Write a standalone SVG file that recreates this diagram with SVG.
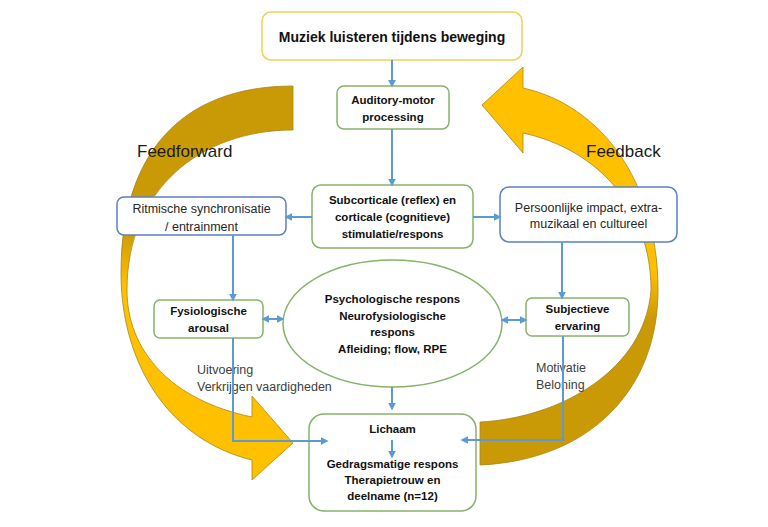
<svg xmlns="http://www.w3.org/2000/svg" width="768" height="527" viewBox="0 0 768 527">
<style>
.bg{fill:#ffffff}
.box{fill:#ffffff;stroke-width:1.5}
.g{stroke:#86B26A}
.b{stroke:#5B80C2}
.y{stroke:#F3CF55}
.t{font-family:"Liberation Sans",Arial,sans-serif;fill:#111111;text-anchor:middle}
.bold{font-weight:bold;font-size:11.5px}
.norm{font-size:12.5px;fill:#262626}
.lbl{font-family:"Liberation Sans",Arial,sans-serif;font-size:12.5px;fill:#404040}
.big{font-family:"Liberation Sans",Arial,sans-serif;font-size:17px;fill:#1a1a1a}
.con{fill:none;stroke:#5B9BD5;stroke-width:2}
.arr{stroke:#A8861A;stroke-width:0.8}
</style>
<defs>
<marker id="ah" viewBox="0 0 10 10" refX="8" refY="5" markerWidth="4" markerHeight="4" orient="auto-start-reverse" markerUnits="strokeWidth">
<path d="M0,0 L10,5 L0,10 Z" fill="#5B9BD5"/>
</marker>
<linearGradient id="gl" gradientUnits="userSpaceOnUse" x1="0" y1="230" x2="0" y2="285">
<stop offset="0" stop-color="#C99A06"/>
<stop offset="1" stop-color="#FFC000"/>
</linearGradient>
<linearGradient id="gr" gradientUnits="userSpaceOnUse" x1="0" y1="270" x2="0" y2="320">
<stop offset="0" stop-color="#FFC000"/>
<stop offset="1" stop-color="#C99A06"/>
</linearGradient>
</defs>
<rect class="bg" x="0" y="0" width="768" height="527"/>

<g id="feedforward-arrow">
<path class="arr" fill="url(#gl)" d="M293,86 C180,86 121,155 121,273 C121,365 170,440 252,460 L252,480 L293,443 L252,396 L252,417 C170,400 127,350 127,290 C127,190 200,130 293,130 Z"/>
</g>
<g id="feedback-arrow">
<path class="arr" fill="url(#gr)" d="M482,105 L523,67 L523,88 C600,105 658,180 658,290 C658,390 590,460 480,465 L480,422 C560,418 645,370 651,290 C651,210 600,150 523,133 L523,153 Z"/>
</g>

<g id="labels">
<text class="big" x="137" y="157">Feedforward</text>
<text class="big" x="586" y="157">Feedback</text>
<text class="lbl" x="197" y="374">Uitvoering</text>
<text class="lbl" x="197" y="391">Verkrijgen vaardigheden</text>
<text class="lbl" x="536" y="372">Motivatie</text>
<text class="lbl" x="536" y="389">Beloning</text>
</g>

<g id="muziek">
<rect class="box y" x="262" y="12" width="260" height="48" rx="9"/>
<text class="t" x="392" y="42" style="font-weight:bold;font-size:14px">Muziek luisteren tijdens beweging</text>
</g>
<g id="auditory">
<rect class="box g" x="337" y="86" width="112" height="43" rx="7"/>
<text class="t bold" x="393" y="104">Auditory-motor</text>
<text class="t bold" x="393" y="121">processing</text>
</g>
<g id="subcorticale">
<rect class="box g" x="312" y="185" width="161" height="63" rx="9"/>
<text class="t bold" x="392.5" y="204">Subcorticale (reflex) en</text>
<text class="t bold" x="392.5" y="221">corticale (cognitieve)</text>
<text class="t bold" x="392.5" y="238">stimulatie/respons</text>
</g>
<g id="ritmische">
<rect class="box b" x="117" y="197" width="169" height="38" rx="7"/>
<text class="t norm" x="201.5" y="212.5">Ritmische synchronisatie</text>
<text class="t norm" x="201.5" y="230.5">/ entrainment</text>
</g>
<g id="persoonlijke">
<rect class="box b" x="500" y="187" width="177" height="55" rx="9"/>
<text class="t norm" x="588.5" y="211.5">Persoonlijke impact, extra-</text>
<text class="t norm" x="588.5" y="228">muzikaal en cultureel</text>
</g>
<g id="fysiologische">
<rect class="box g" x="154" y="300" width="109" height="38" rx="6"/>
<text class="t bold" x="208.5" y="315">Fysiologische</text>
<text class="t bold" x="208.5" y="332">arousal</text>
</g>
<g id="psychologische">
<ellipse class="box g" cx="392.5" cy="323.5" rx="109.5" ry="63.5"/>
<text class="t bold" x="392.5" y="303">Psychologische respons</text>
<text class="t bold" x="392.5" y="320">Neurofysiologische</text>
<text class="t bold" x="392.5" y="336">respons</text>
<text class="t bold" x="392.5" y="353">Afleiding; flow, RPE</text>
</g>
<g id="subjectieve">
<rect class="box g" x="526" y="298" width="103" height="38" rx="6"/>
<text class="t bold" x="577.5" y="313">Subjectieve</text>
<text class="t bold" x="577.5" y="330">ervaring</text>
</g>
<g id="lichaam">
<rect class="box g" x="309" y="414" width="167" height="97" rx="15"/>
<text class="t bold" x="392.5" y="433">Lichaam</text>
<text class="t bold" x="392.5" y="468">Gedragsmatige respons</text>
<text class="t bold" x="392.5" y="484">Therapietrouw en</text>
<text class="t bold" x="392.5" y="500">deelname (n=12)</text>
</g>

<g id="connectors">
<path class="con" marker-end="url(#ah)" d="M392,60 V86"/>
<path class="con" marker-end="url(#ah)" d="M392,129 V185"/>
<path class="con" marker-end="url(#ah)" d="M312,217 H286"/>
<path class="con" marker-end="url(#ah)" d="M473,217 H500"/>
<path class="con" marker-end="url(#ah)" d="M233,235 V300"/>
<path class="con" marker-start="url(#ah)" marker-end="url(#ah)" d="M263,319 H283"/>
<path class="con" marker-end="url(#ah)" d="M562,242 V298"/>
<path class="con" marker-start="url(#ah)" marker-end="url(#ah)" d="M502,320 H526"/>
<path class="con" marker-end="url(#ah)" d="M392,387 V409"/>
<path class="con" marker-end="url(#ah)" d="M392,440 V457"/>
<path class="con" marker-end="url(#ah)" d="M233,338 V441 H327"/>
<path class="con" marker-end="url(#ah)" d="M563,336 V440 H462"/>
</g>
</svg>
